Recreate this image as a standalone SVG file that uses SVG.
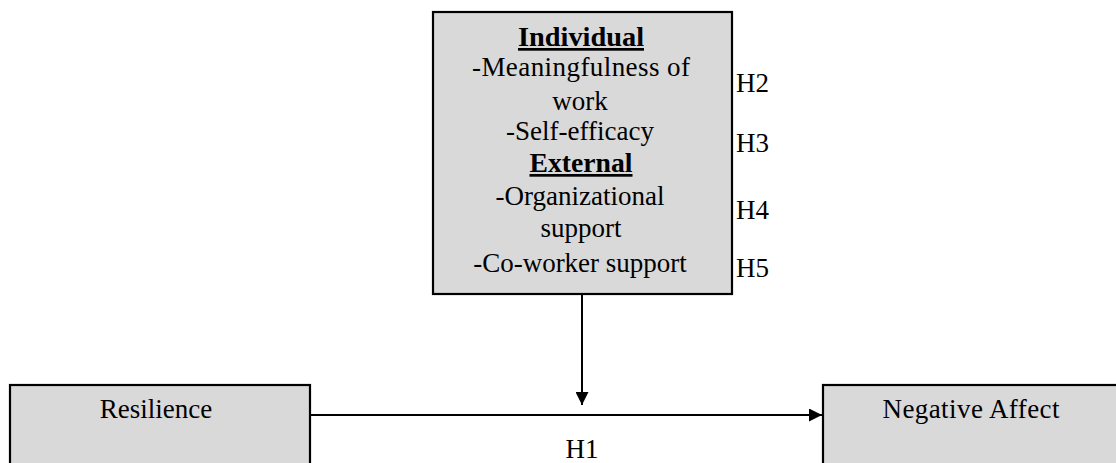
<svg xmlns="http://www.w3.org/2000/svg" width="1116" height="463" viewBox="0 0 1116 463">
<style>
.box{fill:#d9d9d9;stroke:#000;stroke-width:2.2}
.t{font-family:"Liberation Serif","Times New Roman",serif;font-size:27px;fill:#000;text-anchor:middle}
.b{font-weight:bold;text-decoration:underline}
.h{font-family:"Liberation Serif","Times New Roman",serif;font-size:27px;fill:#000}
.ln{stroke:#000;stroke-width:2;fill:none}
</style>
<defs>
<marker id="ah" viewBox="0 0 10 10" refX="10" refY="5" markerWidth="13" markerHeight="13" markerUnits="userSpaceOnUse" orient="auto">
<path d="M0,0 L10,5 L0,10 z" fill="#000"/>
</marker>
</defs>
<g id="moderators">
<rect class="box" x="433" y="12" width="299" height="282"/>
<text class="t b" x="581" y="46" textLength="126" lengthAdjust="spacingAndGlyphs">Individual</text>
<text class="t" x="581" y="76" textLength="218" lengthAdjust="spacing">-Meaningfulness of</text>
<text class="t" x="580" y="110">work</text>
<text class="t" x="580" y="140">-Self-efficacy</text>
<text class="t b" x="581" y="172" textLength="103" lengthAdjust="spacingAndGlyphs">External</text>
<text class="t" x="580" y="205">-Organizational</text>
<text class="t" x="581" y="237">support</text>
<text class="t" x="580" y="272">-Co-worker support</text>
</g>
<g id="hypotheses">
<text class="h" x="736" y="92">H2</text>
<text class="h" x="736" y="152">H3</text>
<text class="h" x="736" y="219">H4</text>
<text class="h" x="736" y="277">H5</text>
<text class="h" x="582" y="458" text-anchor="middle">H1</text>
</g>
<g id="resilience">
<rect class="box" x="10" y="385" width="300" height="100"/>
<text class="t" x="156" y="418">Resilience</text>
</g>
<g id="negative-affect">
<rect class="box" x="823" y="385" width="320" height="100"/>
<text class="t" x="971" y="418" textLength="177" lengthAdjust="spacing">Negative Affect</text>
</g>
<g id="connectors">
<line class="ln" x1="310" y1="415" x2="822" y2="415" marker-end="url(#ah)"/>
<line class="ln" x1="582" y1="294" x2="582" y2="405" marker-end="url(#ah)"/>
</g>
</svg>
